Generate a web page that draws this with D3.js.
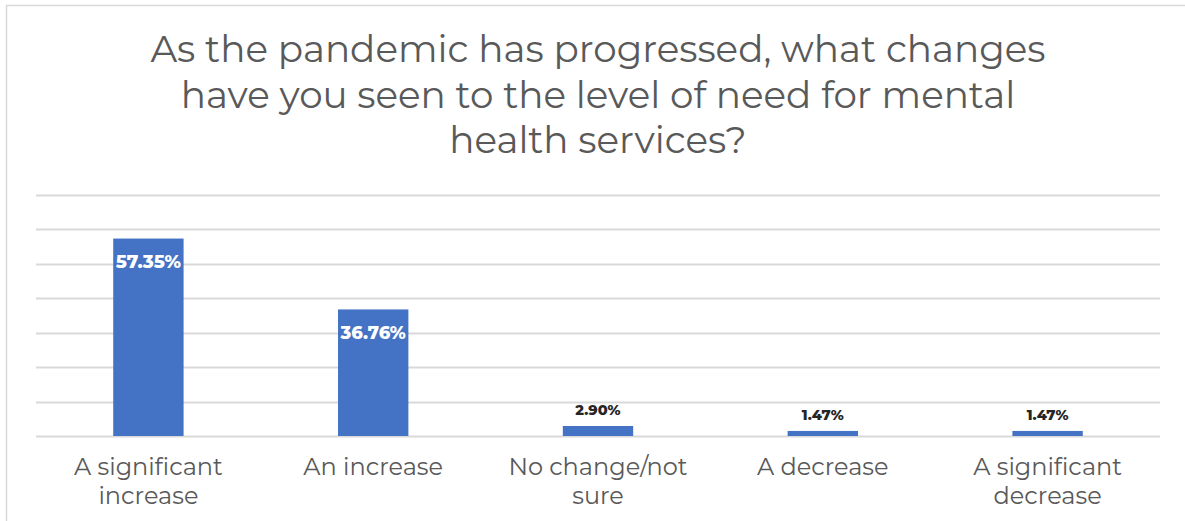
<html>
<head>
<title>Mental health services need</title>
<meta charset="utf-8">
<style type="text/css">
* { margin: 0; padding: 0; }
body { background: #fff; }
text { font-family: Montserrat, "DejaVu Sans", sans-serif; }
.title { font-size: 37.3px; fill: #595959; }
.cat { font-size: 24px; fill: #595959; }
.val { font-weight: 800; }
</style>
<script src="https://cdn.jsdelivr.net/npm/d3@7"></script>
</head>
<body>
<div id="chart"></div>
<script type="text/javascript">
// survey answers, one bar each
var categories = ["A significant increase", "An increase", "No change/not sure", "A decrease", "A significant decrease"];
var categoryLines = [["A significant", "increase"], ["An increase"], ["No change/not", "sure"], ["A decrease"], ["A significant", "decrease"]];
var values = [57.35, 36.76, 2.90, 1.47, 1.47];
var valueLabels = ["57.35%", "36.76%", "2.90%", "1.47%", "1.47%"];
var yTicks = [0, 10, 20, 30, 40, 50, 60, 70];
var titleLines = ["As the pandemic has progressed, what changes", "have you seen to the level of need for mental", "health services?"];

var W = 1185, H = 521;
var svg = d3.select("#chart").append("svg")
  .attr("width", W)
  .attr("height", H);

// chart frame
svg.append("rect")
  .attr("x", 6.5).attr("y", 5.5)
  .attr("width", 1300).attr("height", 700)
  .attr("fill", "#fff")
  .attr("stroke", "#d9d9d9")
  .attr("stroke-width", 1.5);

var x = d3.scaleBand()
  .domain(categories)
  .range([36, 1160])
  .paddingInner(0.687)
  .paddingOuter(0.3435);

var y = d3.scaleLinear()
  .domain([0, 70])
  .range([436, 195]);

// title
svg.append("g").selectAll("text")
  .data(titleLines)
  .enter().append("text")
  .attr("class", "title")
  .attr("x", 598)
  .attr("y", function(d, i) { return 62 + i * 45.5; })
  .attr("text-anchor", "middle")
  .text(function(d) { return d; });

// gridlines
svg.append("g").selectAll("line")
  .data(yTicks)
  .enter().append("line")
  .attr("x1", 36).attr("x2", 1160)
  .attr("y1", function(d) { return Math.round(y(d)) + 0.5; })
  .attr("y2", function(d) { return Math.round(y(d)) + 0.5; })
  .attr("stroke", "#d9d9d9")
  .attr("stroke-width", 2);

// bars
svg.append("g").selectAll("rect")
  .data(values)
  .enter().append("rect")
  .attr("x", function(d, i) { return x(categories[i]); })
  .attr("y", function(d) { return y(d); })
  .attr("width", x.bandwidth())
  .attr("height", function(d) { return y(0) - y(d); })
  .attr("fill", "#4472c4");

// value labels: inside the big bars, above the small ones
svg.append("g").selectAll("text")
  .data(values)
  .enter().append("text")
  .attr("class", "val")
  .attr("x", function(d, i) { return x(categories[i]) + x.bandwidth() / 2; })
  .attr("y", function(d) { return d > 10 ? y(d) + 29.5 : y(d) - 11; })
  .attr("text-anchor", "middle")
  .attr("fill", function(d) { return d > 10 ? "#fff" : "#262626"; })
  .style("font-size", function(d) { return d > 10 ? "18.5px" : "14.5px"; })
  .text(function(d, i) { return valueLabels[i]; })
  .each(function(d) {
    // inside labels are squeezed to fill the bar width
    if (d > 10) {
      d3.select(this).attr("textLength", x.bandwidth() - 5).attr("lengthAdjust", "spacingAndGlyphs");
    }
  });

// category labels
var cats = svg.append("g").selectAll("text")
  .data(categories)
  .enter().append("text")
  .attr("class", "cat")
  .attr("text-anchor", "middle")
  .attr("x", function(d) { return x(d) + x.bandwidth() / 2; })
  .attr("y", 475);

cats.selectAll("tspan")
  .data(function(d, i) { return categoryLines[i]; })
  .enter().append("tspan")
  .attr("x", function() { var c = this.parentNode.__data__; return x(c) + x.bandwidth() / 2; })
  .attr("dy", function(d, i) { return i == 0 ? 0 : 28.5; })
  .text(function(d) { return d; });
</script>
</body>
</html>
